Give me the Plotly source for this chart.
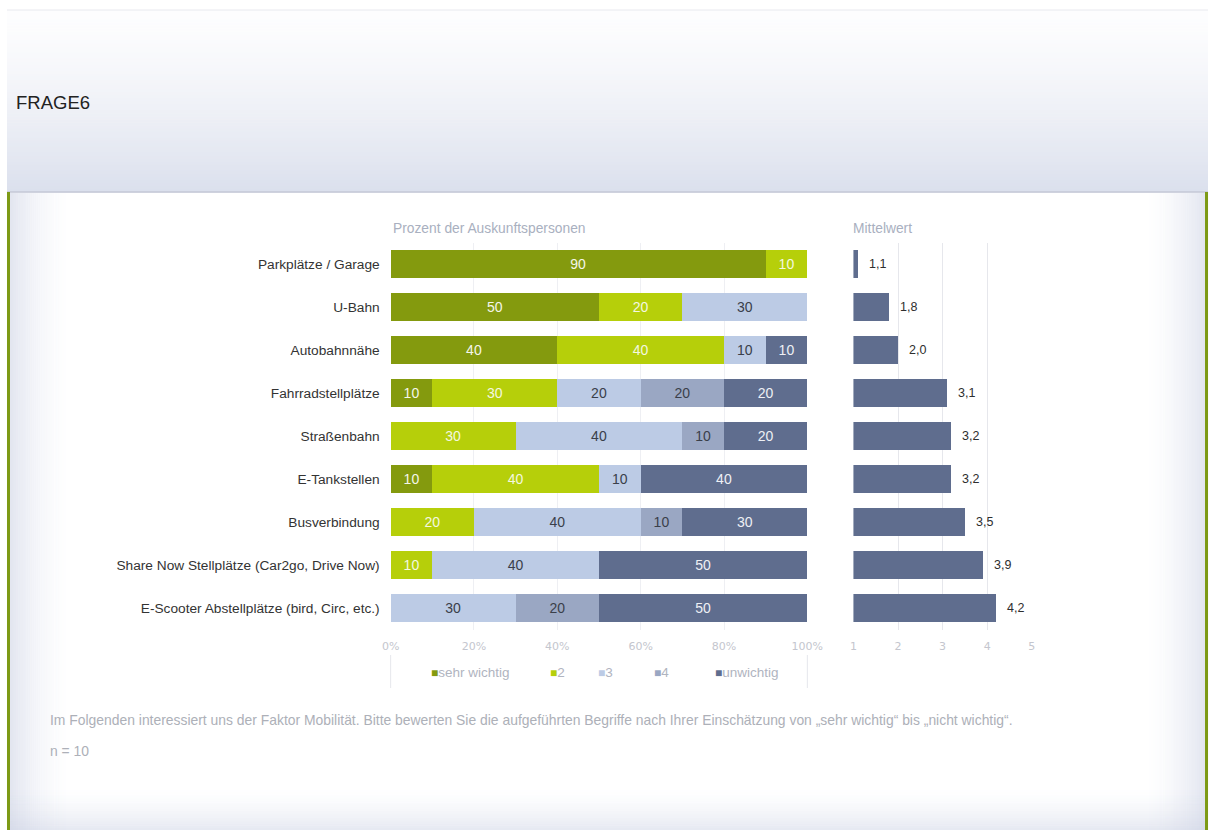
import plotly.graph_objects as go

W, H = 1212, 830

# ---- data ----
categories = [
    "Parkplätze / Garage",
    "U-Bahn",
    "Autobahnnähe",
    "Fahrradstellplätze",
    "Straßenbahn",
    "E-Tankstellen",
    "Busverbindung",
    "Share Now Stellplätze (Car2go, Drive Now)",
    "E-Scooter Abstellplätze (bird, Circ, etc.)",
]
sehr_wichtig = [90, 50, 40, 10, 0, 10, 0, 0, 0]
stufe_2 = [10, 20, 40, 30, 30, 40, 20, 10, 0]
stufe_3 = [0, 30, 10, 20, 40, 10, 40, 40, 30]
stufe_4 = [0, 0, 0, 20, 10, 0, 10, 0, 20]
unwichtig = [0, 0, 10, 20, 20, 40, 30, 50, 50]
mittelwert = [1.1, 1.8, 2.0, 3.1, 3.2, 3.2, 3.5, 3.9, 4.2]

series_names = ["sehr wichtig", "2", "3", "4", "unwichtig"]
pct_ticks = [0, 20, 40, 60, 80, 100]
mean_ticks = [1, 2, 3, 4, 5]

# ---- styling ----
series_colors = ["#849a0e", "#b6cf0a", "#bccbe5", "#9aa7c3", "#5f6d8e"]
series_text = ["#f4f6ea", "#f4f8e0", "#3a3f4a", "#3a3f4a", "#eef0f5"]
mean_color = "#5f6d8e"
FONT = "Liberation Sans, Arial, sans-serif"
TICK_FONT = "DejaVu Sans, sans-serif"

# horizontal placement: the drawn paper spans about PW pixels starting at OX
OX, PW = 10.0, 1185.0


def px(x):
    return (x - OX) / PW


def py(y):
    return 1 - y / H


fig = go.Figure()

series_values = [sehr_wichtig, stufe_2, stufe_3, stufe_4, unwichtig]
for name, vals, col, tcol in zip(series_names, series_values, series_colors, series_text):
    fig.add_trace(go.Bar(
        y=categories, x=vals, name=name, orientation="h",
        marker=dict(color=col, line=dict(width=0)),
        text=[str(v) if v > 0 else "" for v in vals],
        textposition="inside", insidetextanchor="middle", textangle=0,
        constraintext="none",
        textfont=dict(family=FONT, size=14, color=tcol),
        xaxis="x", yaxis="y", showlegend=False, hoverinfo="x+y",
    ))

fig.add_trace(go.Bar(
    y=categories, x=mittelwert, name="Mittelwert", orientation="h",
    marker=dict(color=mean_color, line=dict(width=0)),
    xaxis="x2", yaxis="y2", showlegend=False,
))

# mean value labels
annotations = []
for cat, v in zip(categories, mittelwert):
    annotations.append(dict(
        xref="x2", yref="y2", x=v, y=cat, xanchor="left", yanchor="middle",
        xshift=9, showarrow=False, text=f"{v:.1f}".replace(".", ","),
        font=dict(family=FONT, size=12.5, color="#2e2e2e"),
    ))

# ---- background frame: header gradient, edge haze, green rails ----
shapes = []
top_c = (253, 253, 254)
bot_c = (219, 224, 237)
n_strips = 60
y0h, y1h = 10, 192
for i in range(n_strips):
    t = i / (n_strips - 1)
    tt = t ** 1.4
    c = tuple(round(top_c[k] + (bot_c[k] - top_c[k]) * tt) for k in range(3))
    ya = y0h + (y1h - y0h) * i / n_strips
    yb = y0h + (y1h - y0h) * (i + 1) / n_strips + 0.6
    shapes.append(dict(type="rect", xref="paper", yref="paper", layer="below",
                       x0=px(8), x1=px(1207), y0=py(yb), y1=py(ya),
                       fillcolor=f"rgb{c}", line=dict(width=0)))
shapes.append(dict(type="line", xref="paper", yref="paper", layer="below",
                   x0=px(8), x1=px(1207), y0=py(10), y1=py(10),
                   line=dict(color="#e8e9ee", width=1)))
shapes.append(dict(type="line", xref="paper", yref="paper", layer="below",
                   x0=px(8), x1=px(1207), y0=py(192), y1=py(192),
                   line=dict(color="#c4c9d6", width=1.5)))

haze = "200,206,226"
n_side = 30
side_w = 60
for i in range(n_side):
    t = i / n_side
    a = 0.5 * (1 - t) ** 1.6
    wl = side_w / n_side
    shapes.append(dict(type="rect", xref="paper", yref="paper", layer="below",
                       x0=px(11 + i * wl), x1=px(11 + (i + 1) * wl),
                       y0=py(830), y1=py(193),
                       fillcolor=f"rgba({haze},{a:.3f})", line=dict(width=0)))
    shapes.append(dict(type="rect", xref="paper", yref="paper", layer="below",
                       x0=px(1204 - (i + 1) * wl), x1=px(1204 - i * wl),
                       y0=py(830), y1=py(193),
                       fillcolor=f"rgba({haze},{a:.3f})", line=dict(width=0)))
n_bot = 20
bot_h = 42
for i in range(n_bot):
    t = i / n_bot
    a = 0.45 * (1 - t) ** 1.6
    hb = bot_h / n_bot
    shapes.append(dict(type="rect", xref="paper", yref="paper", layer="below",
                       x0=px(11), x1=px(1204),
                       y0=py(830 - i * hb), y1=py(830 - (i + 1) * hb),
                       fillcolor=f"rgba({haze},{a:.3f})", line=dict(width=0)))
for xa, xb in [(8, 11), (1204, 1207)]:
    shapes.append(dict(type="rect", xref="paper", yref="paper", layer="below",
                       x0=px(xa), x1=px(xb), y0=py(830), y1=py(192),
                       fillcolor="#7d9a16", line=dict(width=0)))

# thin frame ticks around the legend strip
for xx in (391, 807):
    shapes.append(dict(type="line", xref="paper", yref="paper", layer="below",
                       x0=px(xx), x1=px(xx), y0=py(688), y1=py(655),
                       line=dict(color="#e6e7ec", width=1)))

# ---- texts ----
annotations += [
    dict(xref="paper", yref="paper", x=px(15), y=py(102), xanchor="left", yanchor="middle",
         showarrow=False, text="FRAGE6", font=dict(family=FONT, size=18.5, color="#222222")),
    dict(xref="paper", yref="paper", x=px(391), y=py(229), xanchor="left", yanchor="middle",
         showarrow=False, text="Prozent der Auskunftspersonen",
         font=dict(family=FONT, size=13.8, color="#a9b0c0")),
    dict(xref="paper", yref="paper", x=px(851), y=py(229), xanchor="left", yanchor="middle",
         showarrow=False, text="Mittelwert", font=dict(family=FONT, size=13.8, color="#a9b0c0")),
    dict(xref="paper", yref="paper", x=px(49), y=py(720), xanchor="left", yanchor="middle",
         showarrow=False,
         text="Im Folgenden interessiert uns der Faktor Mobilität. Bitte bewerten Sie die aufgeführten "
              "Begriffe nach Ihrer Einschätzung von „sehr wichtig“ bis „nicht wichtig“.",
         font=dict(family=FONT, size=13.9, color="#adb0b8")),
    dict(xref="paper", yref="paper", x=px(49), y=py(751), xanchor="left", yanchor="middle",
         showarrow=False, text="n = 10", font=dict(family=FONT, size=13.9, color="#adb0b8")),
]

# legend row
legend_x = [429, 548, 596, 652, 713]
for name, col, lx in zip(series_names, series_colors, legend_x):
    annotations.append(dict(
        xref="paper", yref="paper", x=px(lx), y=py(672), xanchor="left", yanchor="middle",
        showarrow=False,
        text=f'<span style="color:{col}; font-size:12px">■</span>{name}',
        font=dict(family=FONT, size=13.5, color="#b0b4c0"),
    ))

tick_font = dict(family=TICK_FONT, size=11, color="#c4c6ce")
y_dom = [py(629.5), py(242.5)]

fig.update_layout(
    width=W, height=H, margin=dict(l=0, r=0, t=0, b=0),
    paper_bgcolor="white", plot_bgcolor="rgba(0,0,0,0)",
    barmode="stack", bargap=0.37,
    showlegend=False,
    shapes=shapes, annotations=annotations,
    xaxis=dict(domain=[px(391), px(807)], range=[0, 100], tickvals=pct_ticks,
               ticktext=[f"{t}%" for t in pct_ticks], tickfont=tick_font,
               showgrid=True, gridcolor="#eeeff3", gridwidth=1, zeroline=False,
               ticks="outside", ticklen=6, tickcolor="rgba(0,0,0,0)",
               showline=False, fixedrange=True, anchor="y"),
    yaxis=dict(domain=y_dom, range=[8.5, -0.5], categoryorder="array",
               categoryarray=categories, tickfont=dict(family=FONT, size=13.7, color="#333333"),
               ticks="", ticklabelstandoff=10, showgrid=False, zeroline=False,
               showline=False, anchor="x"),
    xaxis2=dict(domain=[px(853), px(1031)], range=[1, 5], tickvals=mean_ticks,
                tickfont=tick_font, showgrid=True, gridcolor="#e6e7ec", gridwidth=1,
                zeroline=False, ticks="outside", ticklen=6, tickcolor="rgba(0,0,0,0)",
                showline=False, anchor="y2"),
    yaxis2=dict(domain=y_dom, range=[8.5, -0.5], categoryorder="array",
                categoryarray=categories, showticklabels=False, showgrid=False,
                zeroline=False, showline=False, anchor="x2"),
)

fig.write_html("out.html")
